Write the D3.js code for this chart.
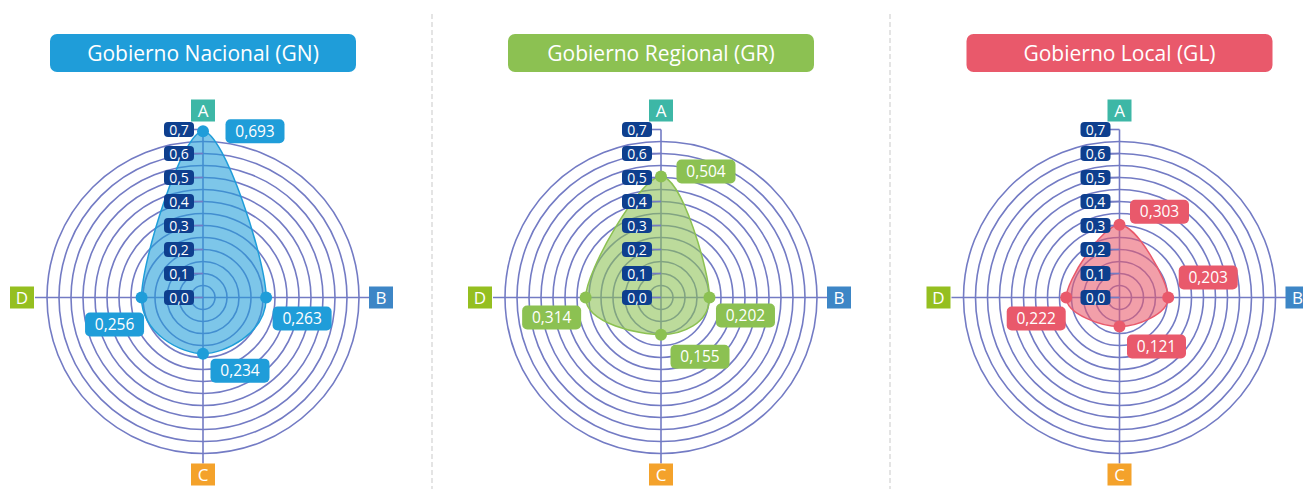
<!DOCTYPE html>
<html><head><meta charset="utf-8">
<script src="https://cdn.jsdelivr.net/npm/d3@7"></script>
<style>
html,body{margin:0;padding:0;background:#fff;}
svg{display:block;font-family:"Open Sans","Noto Sans",sans-serif;}
</style></head>
<body>
<svg id="chart" width="1303" height="489"></svg>
<script>
// ---- data ----
const axisNames = ["A", "B", "C", "D"];
const panelTitles = ["Gobierno Nacional (GN)", "Gobierno Regional (GR)", "Gobierno Local (GL)"];
const valuesGN = [0.693, 0.263, 0.234, 0.256];
const valuesGR = [0.504, 0.202, 0.155, 0.314];
const valuesGL = [0.303, 0.203, 0.121, 0.222];
const tickValues = [0, 0.1, 0.2, 0.3, 0.4, 0.5, 0.6, 0.7];
const tickLabels = ["0,0", "0,1", "0,2", "0,3", "0,4", "0,5", "0,6", "0,7"];
const ringValues = d3.range(1, 14).map(i => i * 0.05);

// ---- layout / style ----
const W = 1303, H = 489;
const panelX = [203, 661, 1119.5];
const cy = 297.5;
const panelColors = ["#1f9dd9", "#8cc152", "#e9596b"];
const axisColors = ["#3db7a6", "#3d86c6", "#f4a22b", "#95bf20"];
const ringColor = "#737bc4";
const tickBoxColor = "#0e3f8e";
// label offsets (px) from each point, per panel per axis
const labelOffsets = [
  [[52, 0], [36, 21], [37, 17], [-27, 27]],
  [[45, -5], [36, 18], [39, 22], [-34, 20]],
  [[40, -13], [40, -20], [37, 20], [-30, 21]]
];
const allValues = [valuesGN, valuesGR, valuesGL];

const svg = d3.select("#chart");
const r = d3.scaleLinear().domain([0, 0.7]).range([0, 168]);
const angle = d3.scalePoint().domain(axisNames).range([0, 2 * Math.PI * 3 / 4]);

// separators
[432, 890].forEach(x => {
  svg.append("line").attr("x1", x).attr("x2", x).attr("y1", 14).attr("y2", H)
    .attr("stroke", "#dcdcdc").attr("stroke-width", 1.5).attr("stroke-dasharray", "5,3");
});

panelTitles.forEach((title, pi) => {
  const cx = panelX[pi];
  const g = svg.append("g").attr("transform", `translate(${cx},${cy})`);
  const vals = allValues[pi];
  const col = panelColors[pi];

  // title
  const tg = svg.append("g").attr("transform", `translate(${cx},0)`);
  tg.append("rect").attr("x", -153).attr("y", 34).attr("width", 306).attr("height", 38)
    .attr("rx", 7).attr("fill", col);
  tg.append("text").attr("x", 0).attr("y", 53).attr("dy", "0.36em")
    .attr("text-anchor", "middle").attr("fill", "#fff").attr("font-size", 21)
    .text(title);

  // rings
  g.selectAll("circle.ring").data(ringValues).join("circle").attr("class", "ring")
    .attr("r", d => r(d)).attr("fill", "none").attr("stroke", ringColor).attr("stroke-width", 1.6);

  // axes
  const axLen = [r(0.7), 168, 166, 168];
  const lineDirs = axisNames.map((a, i) => {
    const t = angle(a);
    return [Math.sin(t), -Math.cos(t)];
  });
  axisNames.forEach((a, i) => {
    const [dx, dy] = lineDirs[i];
    g.append("line").attr("x1", 0).attr("y1", 0)
      .attr("x2", dx * axLen[i]).attr("y2", dy * axLen[i])
      .attr("stroke", ringColor).attr("stroke-width", 1.6);
  });

  // shape
  const pts = vals.map((v, i) => {
    const t = angle(axisNames[i]);
    return [Math.sin(t) * r(v), -Math.cos(t) * r(v)];
  });
  g.append("path").datum(pts)
    .attr("d", d3.line().curve(d3.curveCardinalClosed.tension(0)))
    .attr("fill", col).attr("fill-opacity", 0.58)
    .attr("stroke", col).attr("stroke-width", 1.5);

  // tick labels
  tickValues.forEach((tv, ti) => {
    const y = -r(tv);
    g.append("line").attr("x1", -10).attr("x2", 0).attr("y1", y).attr("y2", y)
      .attr("stroke", ringColor).attr("stroke-width", 1.6);
    g.append("rect").attr("x", -39).attr("y", y - 7.5).attr("width", 30).attr("height", 15)
      .attr("rx", 4).attr("fill", tickBoxColor);
    g.append("text").attr("x", -24).attr("y", y).attr("dy", "0.36em")
      .attr("text-anchor", "middle").attr("fill", "#fff").attr("font-size", 14)
      .text(tickLabels[ti]);
  });

  // points
  g.selectAll("circle.pt").data(pts).join("circle").attr("class", "pt")
    .attr("cx", d => d[0]).attr("cy", d => d[1]).attr("r", 6).attr("fill", col);

  // value labels
  pts.forEach((p, i) => {
    const [ox, oy] = labelOffsets[pi][i];
    const lx = p[0] + ox, ly = p[1] + oy;
    g.append("rect").attr("x", lx - 29.5).attr("y", ly - 12).attr("width", 59).attr("height", 24)
      .attr("rx", 5).attr("fill", col);
    g.append("text").attr("x", lx).attr("y", ly).attr("dy", "0.36em")
      .attr("text-anchor", "middle").attr("fill", "#fff").attr("font-size", 15.5)
      .text(d3.format(".3f")(vals[i]).replace(".", ","));
  });

  // axis name boxes
  const labelR = [187, 178, 177, 181];
  axisNames.forEach((a, i) => {
    const [dx, dy] = lineDirs[i];
    const x = dx * labelR[i], y = dy * labelR[i];
    g.append("rect").attr("x", x - 12).attr("y", y - 11).attr("width", 24).attr("height", 22)
      .attr("fill", axisColors[i]);
    g.append("text").attr("x", x).attr("y", y).attr("dy", "0.36em")
      .attr("text-anchor", "middle").attr("fill", "#fff").attr("font-size", 17)
      .text(a);
  });
});
</script>
</body></html>
